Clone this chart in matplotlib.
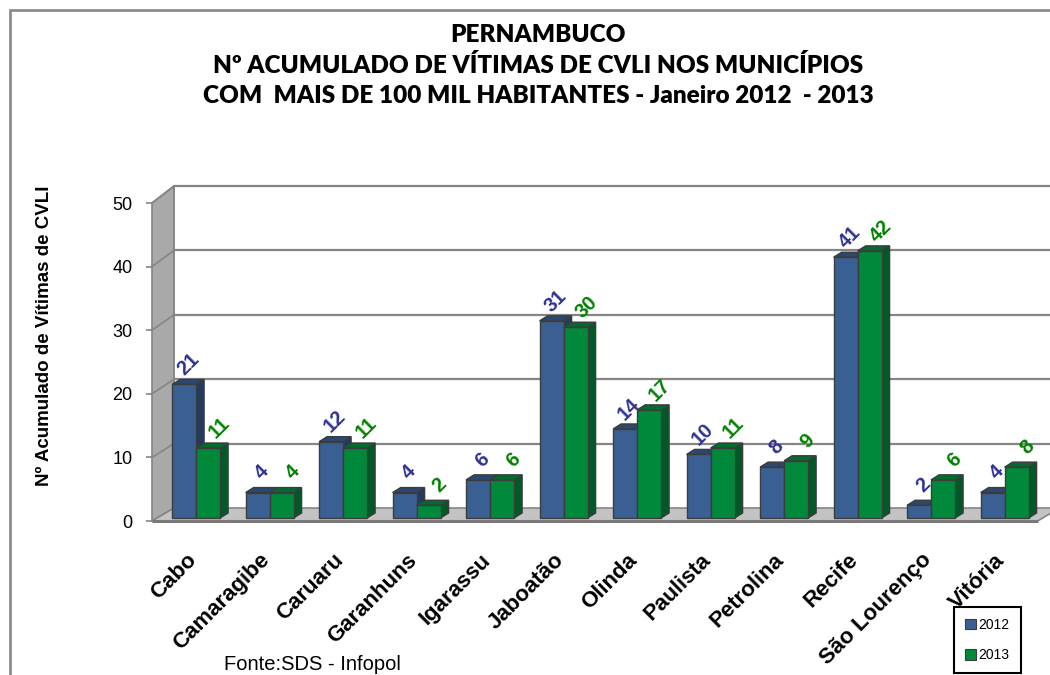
import matplotlib
matplotlib.use("Agg")
import matplotlib.pyplot as plt
from matplotlib.patches import Polygon, Rectangle
import matplotlib.transforms as mtransforms

# ---------------- data ----------------
municipios = ["Cabo", "Camaragibe", "Caruaru", "Garanhuns", "Igarassu", "Jaboatão",
              "Olinda", "Paulista", "Petrolina", "Recife", "São Lourenço", "Vitória"]
vitimas_2012 = [21, 4, 12, 4, 6, 31, 14, 10, 8, 41, 2, 4]
vitimas_2013 = [11, 4, 11, 2, 6, 30, 17, 11, 9, 42, 6, 8]
series_labels = ["2012", "2013"]
yticks = [0, 10, 20, 30, 40, 50]
title_lines = ["PERNAMBUCO",
               "Nº ACUMULADO DE VÍTIMAS DE CVLI NOS MUNICÍPIOS",
               "COM  MAIS DE 100 MIL HABITANTES - Janeiro 2012  - 2013"]
ylabel = "Nº Acumulado de Vítimas de CVLI"
source = "Fonte:SDS - Infopol"

# ---------------- style ----------------
W, H = 1050, 675
fig = plt.figure(figsize=(W / 100, H / 100), dpi=100)
fig.patch.set_facecolor("white")

PX_X = 73.5      # px per category unit
PX_Y = 6.36      # px per value unit
left_px, bottom_px, top_px = 152, 521, 203
XMIN, XMAX = -0.6, 11.45
ax = fig.add_axes([left_px / W, (H - bottom_px) / H,
                   (XMAX - XMIN) * PX_X / W, (bottom_px - top_px) / H])
ax.set_xlim(XMIN, XMAX)
ax.set_ylim(0, 50)
for s in ax.spines.values():
    s.set_visible(False)
ax.patch.set_alpha(0)

# depth of the walls (back plane offset)
DX = 22 / PX_X
DY0 = 13 / PX_Y
DY50 = 17 / PX_Y
def dy(v):
    return DY0 + (DY50 - DY0) * v / 50.0

FAR = XMAX + 2
grid_c = "#858585"
# back wall
ax.add_patch(Polygon([(XMIN + DX, dy(0)), (FAR, dy(0)), (FAR, 50 + dy(50)),
                      (XMIN + DX, 50 + dy(50))], closed=True, facecolor="white",
                     edgecolor="none", clip_on=False, zorder=0))
# left wall
ax.add_patch(Polygon([(XMIN, 0), (XMIN + DX, dy(0)), (XMIN + DX, 50 + dy(50)), (XMIN, 50)],
                     closed=True, facecolor="#A9A9A9", edgecolor=grid_c, lw=1.2,
                     clip_on=False, zorder=1))
# floor
ax.add_patch(Polygon([(XMIN, 0), (XMAX, 0), (XMAX + DX, dy(0)), (XMIN + DX, dy(0))],
                     closed=True, facecolor="#C3C3C3", edgecolor=grid_c, lw=1.2,
                     clip_on=False, zorder=1))
ax.plot([XMIN, XMAX], [0, 0], color="#7A7A7A", lw=2.2, clip_on=False, zorder=1.5,
        solid_capstyle="butt")
# gridlines on back wall + left wall diagonals
for v in yticks[1:]:
    ax.plot([XMIN + DX, FAR], [v + dy(v), v + dy(v)], color=grid_c, lw=1.6,
            clip_on=False, zorder=0.5)
    ax.plot([XMIN, XMIN + DX], [v, v + dy(v)], color=grid_c, lw=1.2,
            clip_on=False, zorder=1.2)
ax.plot([XMIN + DX, XMIN + DX], [dy(0), 50 + dy(50)], color=grid_c, lw=1.2,
        clip_on=False, zorder=1.2)

# bars
BW = 24 / PX_X
BASE = 3 / PX_Y
BDX = 8 / PX_X
BDY = 5 / PX_Y
# (values, x offset, front, top, side, label colour, label x-shift px)
series = [
    (vitimas_2012, -BW, "#3A5F92", "#2A4870", "#223B5E", "#2E3192", 4),
    (vitimas_2013, 0.0, "#00893B", "#006D2F", "#005A26", "#008000", 11),
]
xs = list(range(len(municipios)))
for k, (vals, off, cfront, ctop, cside, ctext, lshift) in enumerate(series):
    x0s = [x + off for x in xs]
    for x0, v in zip(x0s, vals):
        x1 = x0 + BW
        t = BASE + v
        ax.add_patch(Polygon([(x1, BASE), (x1 + BDX, BASE + BDY), (x1 + BDX, t + BDY), (x1, t)],
                             closed=True, facecolor=cside, edgecolor="#3C3C3C", lw=1.0,
                             zorder=3 + k))
        ax.add_patch(Polygon([(x0, t), (x1, t), (x1 + BDX, t + BDY), (x0 + BDX, t + BDY)],
                             closed=True, facecolor=ctop, edgecolor="#3C3C3C", lw=1.0,
                             zorder=3 + k))
    ax.bar(x0s, vals, width=BW, bottom=BASE, align="edge", color=cfront,
           edgecolor="#3C3C3C", linewidth=1.0, zorder=3.5 + k, label=series_labels[k])
    for x0, v in zip(x0s, vals):
        ax.text(x0 + BW / 2 + lshift / PX_X, BASE + v + 20 / PX_Y, str(v), rotation=45,
                ha="center", va="center", color=ctext, fontsize=14.5, fontweight="bold",
                family="Liberation Sans", zorder=6)

# axes ticks
ax.set_yticks(yticks)
ax.set_yticklabels([str(v) for v in yticks], fontsize=13, family="Liberation Sans")
ax.tick_params(axis="y", length=4, color=grid_c, width=1.2, pad=10)
ax.set_xticks(xs)
ax.set_xticklabels(municipios, rotation=45, ha="right", va="center",
                   rotation_mode="anchor", fontsize=16, fontweight="bold",
                   family="Liberation Sans")
ax.tick_params(axis="x", length=0, pad=26)
shift = mtransforms.ScaledTranslation(-3 / 100, 0, fig.dpi_scale_trans)
for lab in ax.get_xticklabels():
    lab.set_transform(lab.get_transform() + shift)

# y label
fig.text(45 / W, 1 - 336 / H, ylabel, rotation=90, ha="center", va="center",
         fontsize=13.5, fontweight="bold", family="Liberation Sans")

# title
for yy, line in zip([35, 65.5, 96], title_lines):
    fig.text(538 / W, 1 - yy / H, line, ha="center", va="center", fontsize=17.5,
             fontweight="heavy", family="Lato")

# legend
handles = [Rectangle((0, 0), 1, 1, facecolor=series[i][2], edgecolor="#3C3C3C", lw=0.8)
           for i in range(2)]
leg = fig.legend(handles, series_labels, loc="center",
                 bbox_to_anchor=(987.5 / W, 1 - 640 / H),
                 handlelength=0.75, handleheight=0.75, handletextpad=0.2,
                 labelspacing=1.2, borderpad=0.8, fancybox=False, framealpha=1,
                 edgecolor="black", prop={"family": "Liberation Sans", "size": 10})
leg.get_frame().set_linewidth(1.5)

# source
fig.text(224 / W, 1 - 655 / H, source, ha="left", va="top", fontsize=14.5,
         family="Liberation Sans")

# outer chart frame
fig.add_artist(Rectangle((10 / W, -0.1), 1.2, 1 - 10 / H + 0.1, transform=fig.transFigure,
                         facecolor="none", edgecolor="#8C8C8C", lw=2.0))

fig.savefig("out.png", dpi=100)
